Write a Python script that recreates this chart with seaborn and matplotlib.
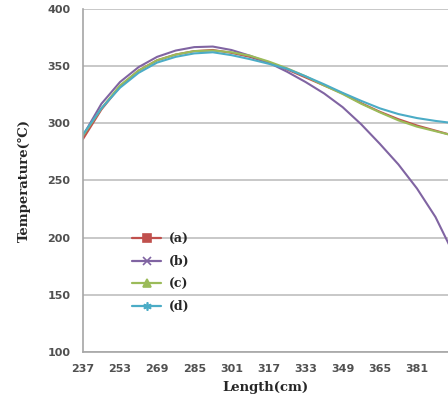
import matplotlib
matplotlib.use('Agg')
import matplotlib.pyplot as plt
from matplotlib.lines import Line2D
import pandas as pd
import seaborn as sns

# Length positions (cm) and temperatures
length = [237, 245, 253, 261, 269, 277, 285, 293, 301, 309, 317,
          325, 333, 341, 349, 357, 365, 373, 381, 389, 397]
temp_a = [286, 312, 332, 346, 355, 360, 363, 364, 361.5, 358, 353,
          347, 340, 333, 326, 317.5, 310, 303.5, 298, 293.5, 289]
temp_b = [289, 317, 336, 349, 358, 363.5, 366.5, 367, 364, 359, 353,
          345, 336, 326, 314, 299, 282, 264, 243, 218, 185]
temp_c = [289, 313, 333, 346, 355, 360, 363, 363.5, 362, 359, 354,
          348, 341, 333, 325.5, 317, 309.5, 302.5, 297, 293, 289]
temp_d = [290, 313, 331, 344, 353, 358, 361, 362, 359.5, 356, 352,
          347.5, 341, 334, 326.5, 319.5, 313, 308, 304.5, 302, 300]

series_names = ['(a)', '(b)', '(c)', '(d)']
colors = ['#C0504D', '#8064A2', '#9BBB59', '#4BACC6']
markers = ['s', 'x', '^', (6, 2, 0)]
x_ticks = [237, 253, 269, 285, 301, 317, 333, 349, 365, 381]
y_ticks = [100, 150, 200, 250, 300, 350, 400]

df = pd.DataFrame({'Length': length, '(a)': temp_a, '(b)': temp_b,
                   '(c)': temp_c, '(d)': temp_d})
long_df = df.melt(id_vars='Length', var_name='series', value_name='Temperature')

sns.set_style('white')

fig = plt.figure(figsize=(4.48, 4.0), dpi=100)
ax = fig.add_axes([0.185, 0.12, 0.815, 0.858])

sns.lineplot(data=long_df, x='Length', y='Temperature', hue='series',
             hue_order=series_names, palette=colors, linewidth=1.5,
             legend=False, ax=ax)

ax.set_xlim(237, 394.4)
ax.set_ylim(100, 400)
ax.set_xticks(x_ticks)
ax.set_yticks(y_ticks)
ax.yaxis.grid(True, color='#BFBFBF', linewidth=1.2)
ax.set_axisbelow(True)

for side in ['top', 'right']:
    ax.spines[side].set_visible(False)
for side in ['left', 'bottom']:
    ax.spines[side].set_color('#A6A6A6')
    ax.spines[side].set_linewidth(1.2)

ax.tick_params(axis='both', direction='out', length=4, width=1,
               color='#A6A6A6', labelsize=8, labelcolor='#505050', pad=5)
for lab in ax.get_xticklabels() + ax.get_yticklabels():
    lab.set_fontweight('bold')

ax.set_xlabel('Length(cm)', fontsize=9.5, fontweight='bold',
              family=['DejaVu Serif'], labelpad=5)
ax.set_ylabel('Temperature(℃)', fontsize=9.5, fontweight='bold',
              family=['DejaVu Serif'], labelpad=12)

handles = [Line2D([0], [0], color=c, marker=m, markersize=6, linewidth=1.6,
                  markeredgewidth=1.2)
           for c, m in zip(colors, markers)]
leg = ax.legend(handles, series_names, loc='upper left',
                bbox_to_anchor=(0.105, 0.38), frameon=False,
                handlelength=2.3, handletextpad=0.6, labelspacing=0.75,
                prop={'family': 'DejaVu Serif', 'weight': 'bold', 'size': 9})

fig.savefig('out.png', dpi=100)
